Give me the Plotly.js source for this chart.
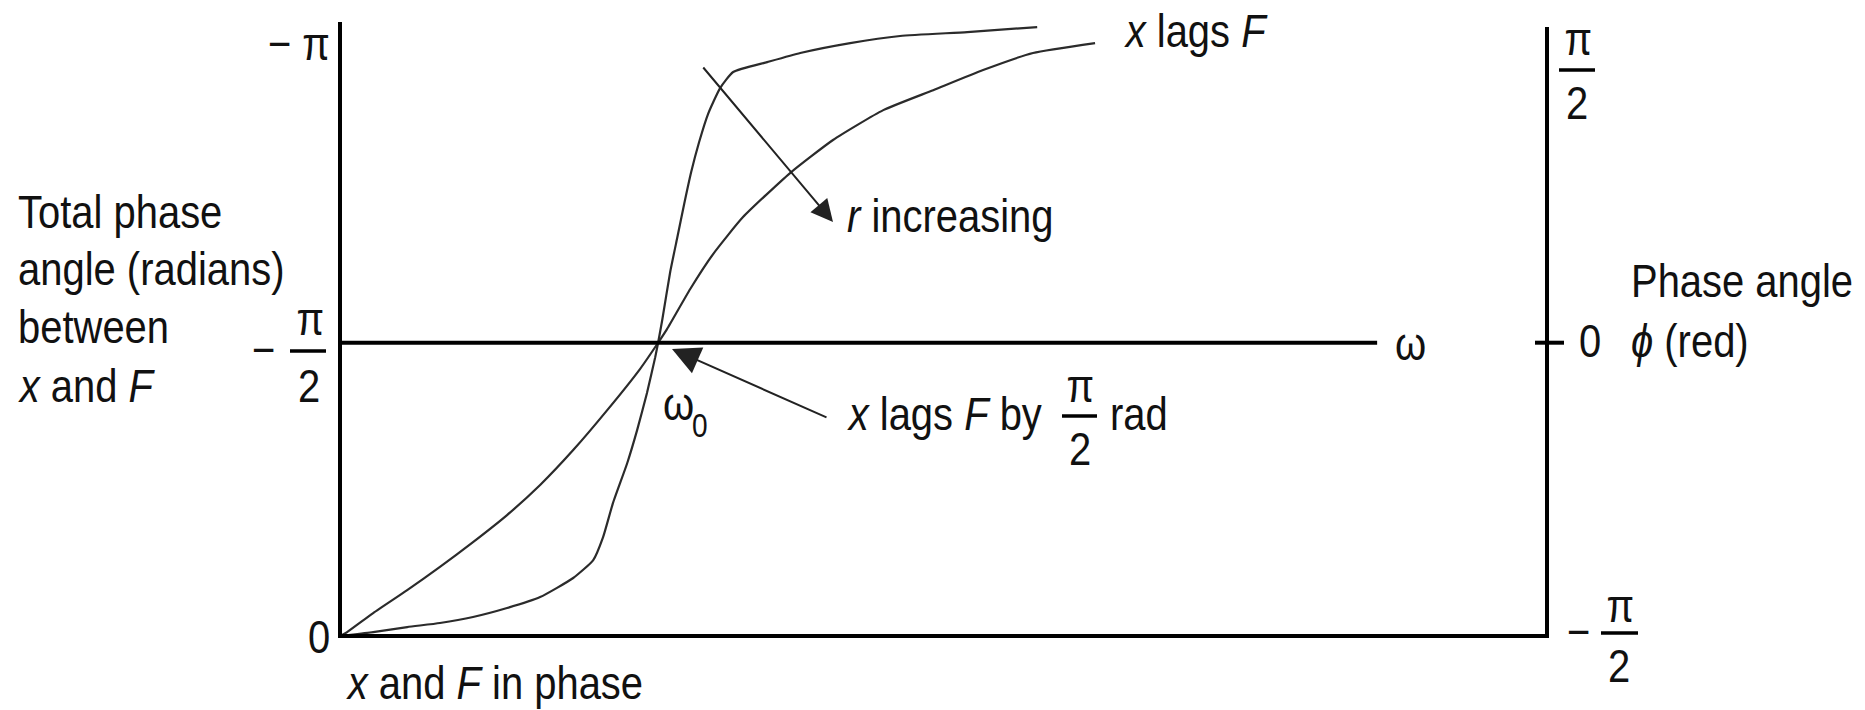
<!DOCTYPE html>
<html>
<head>
<meta charset="utf-8">
<script src="https://cdn.plot.ly/plotly-3.0.1.min.js"></script>
<style>
  html, body { margin: 0; padding: 0; background: #fff; }
  #chart { width: 1865px; height: 710px; }
</style>
</head>
<body>
<div id="chart"></div>
<script>
// Driving frequency ω (ω0 = 1) and total phase angle between x and F (radians),
// for a lightly damped oscillator (sharp step) and a heavily damped one (broad step).
const omegaSharp = [0, 0.104, 0.211, 0.314, 0.418, 0.525, 0.629, 0.733, 0.796, 0.827, 0.858, 0.903,
                    0.934, 0.965, 0.991, 1.000, 1.013, 1.038, 1.060, 1.082, 1.104, 1.129, 1.157, 1.195,
                    1.236, 1.343, 1.447, 1.604, 1.761, 1.972, 2.192];
const phaseSharp = [0, -0.021, -0.048, -0.070, -0.102, -0.150, -0.209, -0.311, -0.407, -0.530, -0.712, -0.927,
                    -1.103, -1.302, -1.494, -1.571, -1.693, -1.950, -2.132, -2.314, -2.485, -2.646, -2.796, -2.935,
                    -3.021, -3.074, -3.123, -3.176, -3.214, -3.235, -3.262];

const omegaBroad = [0, 0.022, 0.104, 0.211, 0.314, 0.418, 0.525, 0.629, 0.733, 0.840, 0.943, 1.000,
                    1.028, 1.101, 1.173, 1.267, 1.415, 1.550, 1.708, 1.865, 2.022, 2.179, 2.374];
const phaseBroad = [0, -0.021, -0.123, -0.246, -0.370, -0.503, -0.648, -0.809, -0.996, -1.210, -1.430, -1.571,
                    -1.644, -1.859, -2.046, -2.244, -2.480, -2.657, -2.817, -2.924, -3.032, -3.123, -3.176];

// Scale labels: total phase on the left, phase angle φ on the right
const leftTickLabels  = ['0', '−π/2', '−π'];
const rightTickLabels = ['−π/2', '0', 'π/2'];
const omegaAxisEnd = 3.261;   // where the ω axis line stops

// ---- page geometry (pixels) ----
const W = 1865, H = 710;
const M = { l: 342, r: 319, t: 22, b: 76 };
const plotW = W - M.l - M.r, plotH = H - M.t - M.b;
const P = px => (px - M.l) / plotW;          // pixel x -> paper x
const Q = py => (H - M.b - py) / plotH;      // pixel y -> paper y

const FONT = '"Liberation Sans", Arial, sans-serif';
const FS = 47;
const NARROW = 0.85;          // horizontal squeeze giving a condensed face
const INK = '#111';

// text placed by its left edge (or centre / right edge) and baseline, in pixels
function label(text, px, baseline, anchor, size) {
  const fs = size || FS;
  const a = anchor || 'left';
  const dx = a === 'left' ? -2 : (a === 'right' ? 2 : 0);
  return {
    text: text, xref: 'paper', yref: 'paper',
    x: P(px + dx), y: Q(baseline - 0.35 * fs),
    xanchor: a, yanchor: 'middle', showarrow: false,
    font: { family: FONT, size: fs, color: INK }
  };
}
function bar(x0, x1, y) {
  return { type: 'line', xref: 'paper', yref: 'paper', x0: P(x0), x1: P(x1), y0: Q(y), y1: Q(y),
           line: { color: '#000', width: 3.5 } };
}
function arrow(tipX, tipY, tailX, tailY, size) {
  return {
    text: '', xref: 'paper', yref: 'paper', x: P(tipX), y: Q(tipY),
    ax: tailX - tipX, ay: tailY - tipY, showarrow: true,
    arrowhead: 2, arrowsize: size, arrowwidth: 2, arrowcolor: '#222', standoff: 0, startstandoff: 0
  };
}

const lineStyle = { color: '#2b2b2b', width: 2.2, shape: 'spline', smoothing: 0.5 };
const traces = [
  { x: omegaSharp, y: phaseSharp, type: 'scatter', mode: 'lines', line: lineStyle, hoverinfo: 'skip' },
  { x: omegaBroad, y: phaseBroad, type: 'scatter', mode: 'lines', line: lineStyle, hoverinfo: 'skip' }
];

const annotations = [
  // left scale title
  label('Total phase', 18, 228),
  label('angle (radians)', 18, 285),
  label('between', 18, 343),
  label('<i>x</i> and <i>F</i>', 18, 402),
  // left tick labels
  label('−&nbsp;π', 330, 60, 'right'),
  label('−', 263, 366, 'center'),
  label('π', 310, 335, 'center'),
  label('2', 309, 402, 'center'),
  label(leftTickLabels[0], 330, 653, 'right'),
  // curve notes
  label('<i>x</i> and <i>F</i> in phase', 346, 699),
  label('<i>x</i> lags <i>F</i>', 1124, 47),
  label('<i>r</i> increasing', 847, 232),
  label('<i>x</i> lags <i>F</i> by', 847, 430),
  label('π', 1080, 402, 'center'),
  label('2', 1080, 465, 'center'),
  label('rad', 1110, 430),
  label('ω', 663, 420),
  label('0', 692, 437, 'left', 33),
  label('ω', 1395, 360),
  // right scale
  label('π', 1578, 55, 'center'),
  label('2', 1577, 119, 'center'),
  label(rightTickLabels[1], 1579, 357),
  label('−', 1578, 648, 'center'),
  label('π', 1620, 622, 'center'),
  label('2', 1619, 682, 'center'),
  label('Phase angle', 1631, 297),
  label('<i>ϕ</i> (red)', 1631, 357),
  // arrows
  arrow(833, 222, 702, 66, 2.2),
  arrow(672, 349, 828, 418, 2.8)
];

const shapes = [
  // ω axis through the −π/2 level
  { type: 'line', xref: 'x', yref: 'y', x0: 0, x1: omegaAxisEnd, y0: -Math.PI / 2, y1: -Math.PI / 2,
    line: { color: '#000', width: 4 } },
  // right-hand φ axis and its zero tick
  { type: 'line', xref: 'paper', yref: 'paper', x0: P(1547), x1: P(1547), y0: Q(638), y1: Q(27),
    line: { color: '#000', width: 4 } },
  { type: 'line', xref: 'paper', yref: 'paper', x0: P(1535), x1: P(1564), y0: Q(342.7), y1: Q(342.7),
    line: { color: '#000', width: 4 } },
  // fraction bars
  bar(290, 326, 351),
  bar(1062, 1097, 416),
  bar(1559, 1595, 70),
  bar(1601, 1638, 633)
];

const layout = {
  width: W, height: H,
  margin: { l: M.l, r: M.r, t: M.t, b: M.b, pad: 0 },
  paper_bgcolor: '#fff', plot_bgcolor: '#fff',
  showlegend: false,
  xaxis: { range: [0.006, 3.792], showline: true, linewidth: 4, linecolor: '#000',
           showgrid: false, zeroline: false, showticklabels: false, ticks: '', fixedrange: true },
  yaxis: { range: [-0.011, -3.289], showline: true, linewidth: 4, linecolor: '#000',
           showgrid: false, zeroline: false, showticklabels: false, ticks: '', fixedrange: true },
  annotations: annotations,
  shapes: shapes
};

Plotly.newPlot('chart', traces, layout, { displayModeBar: false, staticPlot: true }).then(gd => {
  // squeeze each label horizontally about its anchor so the face reads as condensed
  const origin = { left: 'left center', center: 'center center', right: 'right center' };
  annotations.forEach((a, i) => {
    if (!a.text) return;
    const t = gd.querySelector('.annotation[data-index="' + i + '"] text.annotation-text');
    if (!t) return;
    t.style.transformBox = 'fill-box';
    t.style.transformOrigin = origin[a.xanchor];
    t.style.transform = 'scaleX(' + NARROW + ')';
  });
});
</script>
</body>
</html>
